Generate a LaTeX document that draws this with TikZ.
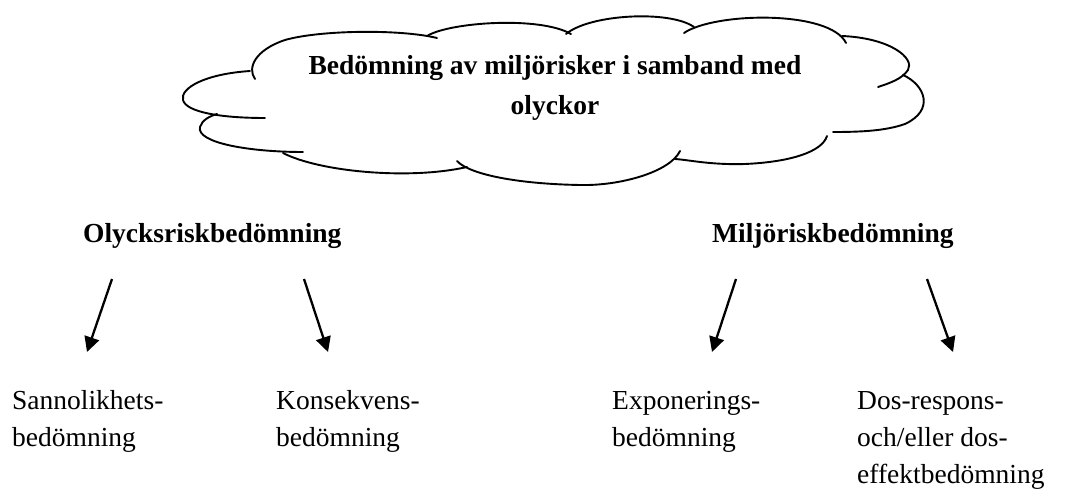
\documentclass[tikz,border=0pt]{standalone}
\usepackage{fontspec}
\setmainfont{Liberation Serif}
\usetikzlibrary{arrows.meta}
\begin{document}
\begin{tikzpicture}[x=1pt,y=-1pt,
  puff/.style={line width=1.9pt,line cap=round},
  arr/.style={line width=2.3pt,-{Triangle[length=15pt,width=15pt]}},
  lbl/.style={inner sep=0pt,font=\fontsize{27.5}{37}\selectfont,align=left},
  head/.style={inner sep=0pt,font=\fontsize{27.5}{40}\selectfont\bfseries}]
\useasboundingbox (0,0) rectangle (1070,497);

% cloud outline, one arc per puff
\draw[puff] (255,79) .. controls (247,68) and (255,50) .. (285,40)
            .. controls (320,30) and (400,29) .. (437,38);
\draw[puff] (427,36) .. controls (450,22) and (540,16) .. (571,34);
\draw[puff] (566,34) .. controls (590,14) and (670,10) .. (694,27);
\draw[puff] (684,33) .. controls (715,12) and (830,10) .. (846,43);
\draw[puff] (842,36) .. controls (890,38) and (915,58) .. (908,70)
            .. controls (902,79) and (890,83) .. (878,87);
\draw[puff] (903,75) .. controls (925,85) and (935,110) .. (905,124)
            .. controls (885,131) and (860,132) .. (833,132);
\draw[puff] (827,136) .. controls (822,152) and (790,162) .. (745,164)
            .. controls (710,165) and (690,160) .. (675,159);
\draw[puff] (680,151) .. controls (670,172) and (620,186) .. (580,185)
            .. controls (520,184) and (470,175) .. (457,161);
\draw[puff] (283,153) .. controls (320,172) and (410,180) .. (467,167);
\draw[puff] (303,152) .. controls (250,152) and (196,143) .. (200,127)
            .. controls (202,120) and (210,116) .. (217,114);
\draw[puff] (250,71) .. controls (205,74) and (180,88) .. (183,100)
            .. controls (186,112) and (220,118) .. (265,118);

% multi-line nodes: the base anchor sits on the last line
\node[head,align=center,anchor=base] (title) at (555,115)
  {Bedömning av miljörisker i samband med\\olyckor};

\node[head,anchor=base west] (olr) at (83,242) {Olycksriskbedömning};
\node[head,anchor=base west] (mrb) at (712,242) {Miljöriskbedömning};

\node[lbl,anchor=base west] (san) at (12,446) {Sannolikhets-\\bedömning};
\node[lbl,anchor=base west] (kon) at (276,446) {Konsekvens-\\bedömning};
\node[lbl,anchor=base west] (exp) at (612,446) {Exponerings-\\bedömning};
\node[lbl,anchor=base west] (dos) at (857,483) {Dos-respons-\\och/eller dos-\\effektbedömning};

\coordinate (s1) at (112,279); \coordinate (e1) at (87,352);
\coordinate (s2) at (304,279); \coordinate (e2) at (328,352);
\coordinate (s3) at (736,279); \coordinate (e3) at (712,352);
\coordinate (s4) at (927,279); \coordinate (e4) at (953,352);
\draw[arr] (s1) -- (e1);
\draw[arr] (s2) -- (e2);
\draw[arr] (s3) -- (e3);
\draw[arr] (s4) -- (e4);
\end{tikzpicture}
\end{document}
